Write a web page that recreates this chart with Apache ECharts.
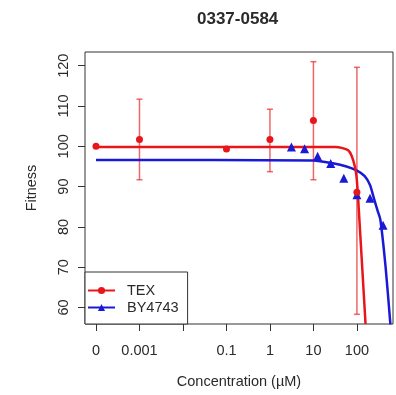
<!DOCTYPE html>
<html>
<head>
<meta charset="utf-8">
<script src="https://cdn.jsdelivr.net/npm/echarts@6/dist/echarts.min.js"></script>
<style>html,body{margin:0;padding:0;background:#fff;}#c{width:396px;height:395px;}</style>
</head>
<body>
<div id="c"></div>
<script>
// ---- data ----
const titleText = '0337-0584';
const xTickConc = [0, 0.001, 0.01, 0.1, 1, 10, 100];
const xTickLabels = ['0', '0.001', '', '0.1', '1', '10', '100'];
const yTicks = [60, 70, 80, 90, 100, 110, 120];

const texConc = [0, 0.001, 0.1, 1, 10, 100];
const texFit = [100, 101.7, 99.3, 101.7, 106.4, 88.6];
const texLow = [null, 91.7, null, 93.7, 91.7, 58.3];
const texHigh = [null, 111.7, null, 109.2, 121, 119.6];

const byConc = [3.125, 6.25, 12.5, 25, 50, 100, 200, 400];
const byFit = [99.8, 99.4, 97.5, 95.7, 92.1, 88.0, 87.1, 80.4];

const texCurveConc = [0, 31.6, 44.7, 63, 75.9, 89.1, 97.7, 102.3, 107.2, 158];
const texCurveVal = [99.8, 99.8, 99.6, 99.0, 97.6, 95.1, 92.6, 90.0, 86.7, 55.9];
const byCurveConc = [0, 10, 28, 57.5, 98, 151, 200, 240, 295, 347, 457, 589];
const byCurveVal = [96.6, 96.5, 95.8, 95.0, 94.0, 92.6, 90.4, 87.5, 84.2, 81.7, 70.0, 55.8];

// ---- helpers ----
const zeroPos = -4; // 0 is plotted one decade below 0.001
const lx = c => c === 0 ? zeroPos : Math.log10(c);
const RED = '#e8161b', BLUE = '#1a1ad6', ERR = 'rgba(232,40,40,0.7)';
const font = '"Liberation Sans", Arial, sans-serif';
const TXT = '#2a2a2a';

const tickPos = xTickConc.map(lx);
const labelMap = {};
tickPos.forEach((p, i) => labelMap[p.toFixed(3)] = xTickLabels[i]);

const errData = [];
texConc.forEach((c, i) => { if (texLow[i] != null) errData.push([lx(c), texLow[i], texHigh[i]]); });

const chart = echarts.init(document.getElementById('c'), null, {renderer: 'canvas'});
chart.setOption({
  animation: false,
  backgroundColor: '#fff',
  title: {
    text: titleText, left: 192, top: 6,
    textStyle: {fontFamily: font, fontSize: 17, fontWeight: 'bold', color: TXT}
  },
  grid: {left: 85, right: 3, top: 52, bottom: 71, show: true, borderColor: '#333', borderWidth: 1, backgroundColor: 'transparent'},
  xAxis: {
    type: 'value', min: -4.253, max: 2.83,
    name: 'Concentration (µM)', nameLocation: 'middle', nameGap: 50,
    nameTextStyle: {fontFamily: font, fontSize: 14.5, color: TXT},
    axisLine: {show: false, onZero: false},
    splitLine: {show: false},
    axisTick: {show: true, inside: false, length: 7, customValues: tickPos, lineStyle: {color: '#333'}},
    axisLabel: {customValues: tickPos, margin: 19, fontFamily: font, fontSize: 14.5, color: TXT,
      formatter: v => labelMap[v.toFixed(3)] ?? ''}
  },
  yAxis: {
    type: 'value', min: 55.9, max: 123.4,
    name: 'Fitness', nameLocation: 'middle', nameGap: 46,
    nameTextStyle: {fontFamily: font, fontSize: 14.5, color: TXT},
    axisLine: {show: false, onZero: false},
    splitLine: {show: false},
    axisTick: {show: true, inside: false, length: 7, customValues: yTicks, lineStyle: {color: '#333'}},
    axisLabel: {customValues: yTicks, rotate: 90, margin: 14, fontFamily: font, fontSize: 14.5, color: TXT}
  },
  legend: {
    data: ['TEX', 'BY4743'], orient: 'vertical', left: 85, bottom: 71,
    backgroundColor: '#fff', borderColor: '#333', borderWidth: 1,
    padding: [11, 9, 9, 2], itemGap: 2, itemWidth: 27, itemHeight: 9,
    textStyle: {fontFamily: font, fontSize: 14.5, color: TXT, padding: [0, 0, 0, 7]}
  },
  series: [
    {
      name: 'err', type: 'custom', z: 2, silent: true,
      data: errData,
      renderItem: (params, api) => {
        const x = api.value(0);
        const lo = api.coord([x, api.value(1)]);
        const hi = api.coord([x, api.value(2)]);
        const cw = 3;
        const st = {stroke: ERR, lineWidth: 1.5};
        return {type: 'group', children: [
          {type: 'line', shape: {x1: lo[0], y1: lo[1], x2: hi[0], y2: hi[1]}, style: st},
          {type: 'line', shape: {x1: lo[0]-cw, y1: lo[1], x2: lo[0]+cw, y2: lo[1]}, style: st},
          {type: 'line', shape: {x1: hi[0]-cw, y1: hi[1], x2: hi[0]+cw, y2: hi[1]}, style: st}
        ]};
      }
    },
    {
      name: 'BY4743', type: 'line', z: 3, symbol: 'triangle', symbolSize: 8, showSymbol: false, smooth: 0.25,
      data: byCurveConc.map((c, i) => [lx(c), byCurveVal[i]]),
      lineStyle: {color: BLUE, width: 2.5}, itemStyle: {color: BLUE}
    },
    {
      name: 'TEX', type: 'line', z: 4, symbol: 'circle', symbolSize: 6, showSymbol: false, smooth: 0.25,
      data: texCurveConc.map((c, i) => [lx(c), texCurveVal[i]]),
      lineStyle: {color: RED, width: 2.5}, itemStyle: {color: RED}
    },
    {
      name: 'byPts', type: 'scatter', z: 5, symbol: 'triangle', symbolSize: 9,
      data: byConc.map((c, i) => [lx(c), byFit[i]]), itemStyle: {color: BLUE, opacity: 1}
    },
    {
      name: 'texPts', type: 'scatter', z: 6, symbol: 'circle', symbolSize: 7,
      data: texConc.map((c, i) => [lx(c), texFit[i]]), itemStyle: {color: RED, opacity: 1}
    }
  ]
});
</script>
</body>
</html>
